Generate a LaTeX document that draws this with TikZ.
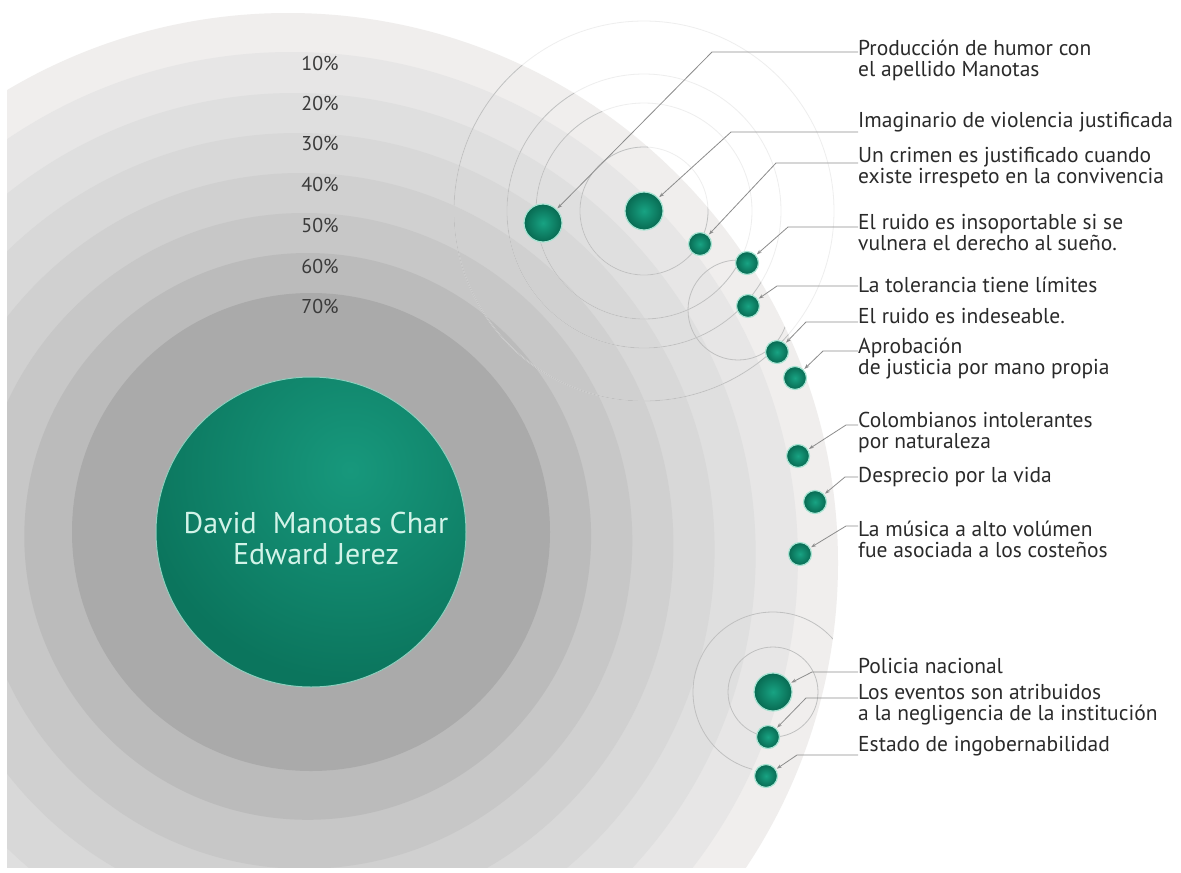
\documentclass[tikz,border=0pt]{standalone}
\usepackage{fontspec}
\setmainfont{PT Sans}
\usetikzlibrary{arrows.meta,calc}
\definecolor{ring0}{HTML}{F0EEED}
\definecolor{ring1}{HTML}{E7E6E6}
\definecolor{ring2}{HTML}{DFDFDF}
\definecolor{ring3}{HTML}{D8D8D8}
\definecolor{ring4}{HTML}{D0D0D0}
\definecolor{ring5}{HTML}{C7C7C7}
\definecolor{ring6}{HTML}{BBBBBB}
\definecolor{ring7}{HTML}{AAAAAA}
\definecolor{gdark}{HTML}{0B755D}
\definecolor{glight}{HTML}{17987C}
\definecolor{grim}{HTML}{8FCFBE}
\definecolor{mint}{HTML}{D2F3E8}
\definecolor{ballin}{HTML}{18A383}
\definecolor{ballout}{HTML}{086A52}
\definecolor{ballrim}{HTML}{A6E3D2}
\definecolor{txt}{HTML}{2A2A2A}
\definecolor{pcttxt}{HTML}{3A3A3A}
\definecolor{leadc}{HTML}{8C8C8C}
\definecolor{thinc}{HTML}{C0C0C0}
\definecolor{faintc}{HTML}{EEEEEE}
\begin{document}
\begin{tikzpicture}[x=1pt,y=-1pt,
  leader/.style={draw=leadc, line width=0.8pt, {Stealth[length=5pt,width=3.5pt]}-},
  ball/.style={circle, inner sep=0pt, minimum size=#1, shading=radial,
     inner color=ballin, outer color=ballout, draw=ballrim, line width=1.2pt, outer sep=1.5pt},
  lab/.style={anchor=west, inner sep=0pt, align=left, text=txt,
     font=\fontsize{21.5}{21}\selectfont},
  pct/.style={inner sep=0pt, text=pcttxt, font=\fontsize{20}{21}\selectfont},
  thinline/.style={draw=thinc, line width=0.8pt},
  faintline/.style={draw=faintc, line width=0.8pt}
]
\useasboundingbox (0,0) rectangle (1181,873);
\fill[white] (0,0) rectangle (1181,873);

% concentric rings
\begin{scope}
  \clip (7,0) rectangle (1181,867);
  \fill[ring0] (288,563) circle (550);
  \fill[ring1] (291.3,558.6) circle (506.6);
  \fill[ring2] (294.6,554.1) circle (461.1);
  \fill[ring3] (297.9,549.7) circle (416.7);
  \fill[ring4] (301.1,545.3) circle (372.3);
  \fill[ring5] (304.4,540.9) circle (327.9);
  \fill[ring6] (307.7,536.4) circle (283.4);
  \fill[ring7] (311,532) circle (239);
\end{scope}

% ball positions
\coordinate (q1) at (543,223);
\coordinate (q2) at (644,211);
\coordinate (q3) at (700,244);
\coordinate (q4) at (747,263);
\coordinate (q5) at (748,306);
\coordinate (q6) at (777,352);
\coordinate (q7) at (795,378);
\coordinate (q8) at (798,456);
\coordinate (q9) at (815,502);
\coordinate (q10) at (800,554);
\coordinate (q11) at (773,692);
\coordinate (q12) at (768,737);
\coordinate (q13) at (766,776);

% thin circles
\foreach \r in {64,108,137,190} \draw[faintline] (q2) circle (\r);
\begin{scope}
  \clip (288,563) circle (550);
  \foreach \r in {64,108,137,190} \draw[thinline] (q2) circle (\r);
  \draw[thinline] (738,310) circle (50);
  \draw[thinline] (q11) circle (45);
  \draw[thinline] ([shift={(-35:80)}]q11) arc[start angle=-35, end angle=-255, radius=80];
\end{scope}

% percent labels
\node[pct] (p10) at (320,63) {10\%};
\node[pct] (p20) at (320,103) {20\%};
\node[pct] (p30) at (320,143) {30\%};
\node[pct] (p40) at (320,184) {40\%};
\node[pct] (p50) at (320,225) {50\%};
\node[pct] (p60) at (320,266) {60\%};
\node[pct] (p70) at (320,306) {70\%};

% central ball
\begin{scope}
  \clip (311,532) circle (155);
  \fill[gdark] (311,532) circle (155);
  \shade[inner color=glight, outer color=gdark] (350,470) circle (210);
\end{scope}
\draw[grim, line width=1pt] (311,532) circle (155);
\node[align=center, inner sep=0pt, text=mint, font=\fontsize{30}{31}\selectfont] (names) at (316,538)
  {David\ \ Manotas Char\\Edward Jerez};

% small balls
\node[ball=38pt] (b1) at (q1) {};
\node[ball=38pt] (b2) at (q2) {};
\node[ball=23pt] (b3) at (q3) {};
\node[ball=23pt] (b4) at (q4) {};
\node[ball=23pt] (b5) at (q5) {};
\node[ball=23pt] (b6) at (q6) {};
\node[ball=23pt] (b7) at (q7) {};
\node[ball=23pt] (b8) at (q8) {};
\node[ball=23pt] (b9) at (q9) {};
\node[ball=23pt] (b10) at (q10) {};
\node[ball=38pt] (b11) at (q11) {};
\node[ball=23pt] (b12) at (q12) {};
\node[ball=23pt] (b13) at (q13) {};

% labels
\node[lab] (t1) at (858,60) {Producción de humor con\\el apellido Manotas};
\node[lab] (t2) at (858,122) {Imaginario de violencia justificada};
\node[lab] (t3) at (858,168) {Un crimen es justificado cuando\\existe irrespeto en la convivencia};
\node[lab] (t4) at (858,233) {El ruido es insoportable si se\\vulnera el derecho al sueño.};
\node[lab] (t5) at (858,285) {La tolerancia tiene límites};
\node[lab] (t6) at (858,316) {El ruido es indeseable.};
\node[lab] (t7) at (858,359) {Aprobación\\de justicia por mano propia};
\node[lab] (t8) at (858,432) {Colombianos intolerantes\\por naturaleza};
\node[lab] (t9) at (858,477) {Desprecio por la vida};
\node[lab] (t10) at (858,539) {La música a alto volúmen\\fue asociada a los costeños};
\node[lab] (t11) at (858,666) {Policia nacional};
\node[lab] (t12) at (858,705) {Los eventos son atribuidos\\a la negligencia de la institución};
\node[lab] (t13) at (858,746) {Estado de ingobernabilidad};

% elbows
\coordinate (e1) at (712,52);
\coordinate (e2) at (731,132);
\coordinate (e3) at (776,163);
\coordinate (e4) at (788,227);
\coordinate (e5) at (777,286);
\coordinate (e6) at (806,322);
\coordinate (e7) at (823,351);
\coordinate (e8) at (846,425);
\coordinate (e9) at (845,477);
\coordinate (e10) at (846,526);
\coordinate (e11) at (812,672);
\coordinate (e12) at (806,698);
\coordinate (e13) at (797,755);

\foreach \i in {1,...,13}
  \draw[leader] (b\i) -- (e\i) -- (e\i -| t\i.west);
\end{tikzpicture}
\end{document}
